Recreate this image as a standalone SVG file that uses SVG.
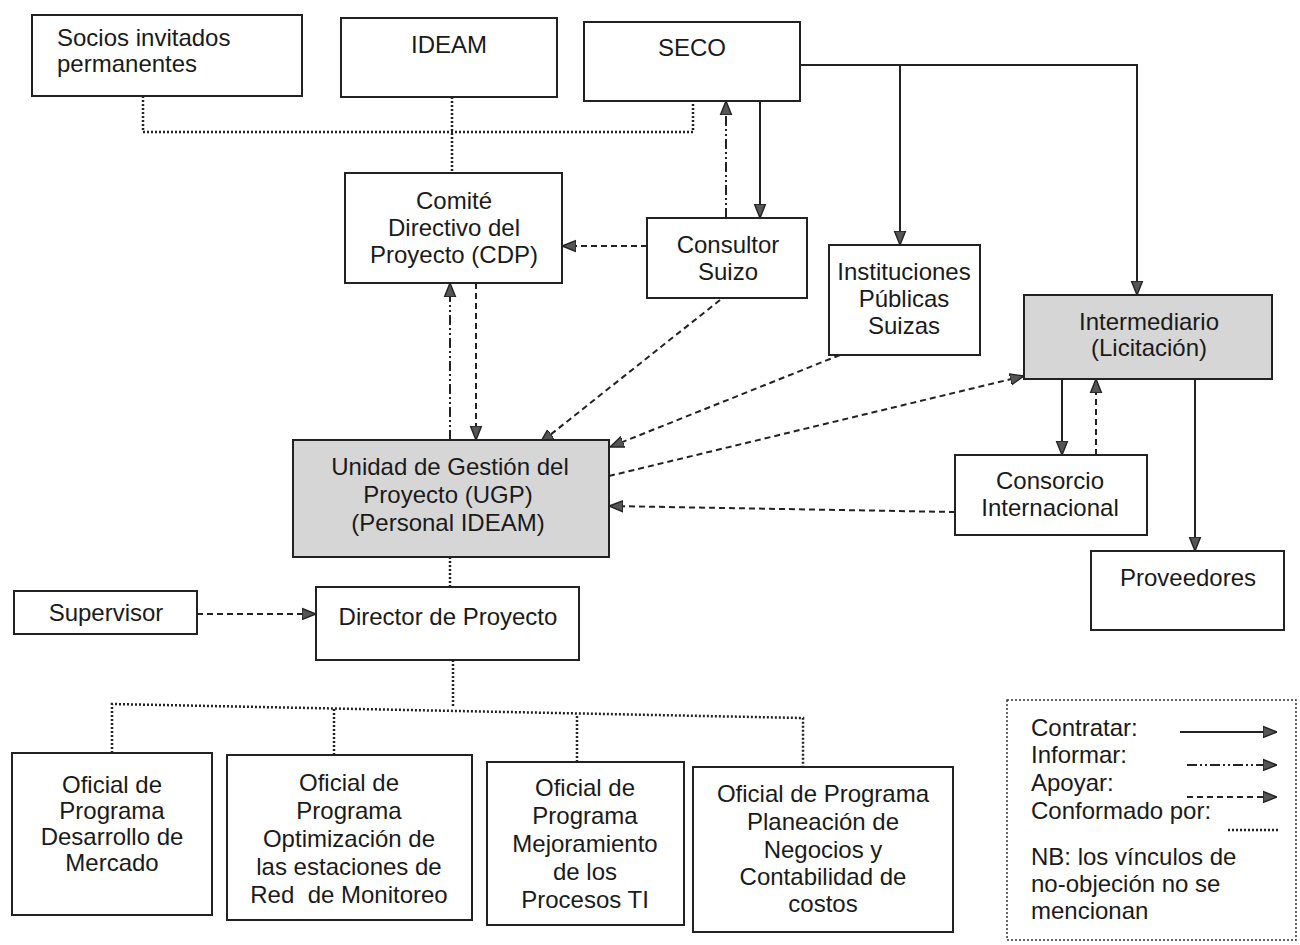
<svg xmlns="http://www.w3.org/2000/svg" width="1300" height="945" viewBox="0 0 1300 945">
<style>
.box{fill:#fff;stroke:#222;stroke-width:2}
.gray{fill:#d6d6d6;stroke:#222;stroke-width:2}
text{font-family:"Liberation Sans",Arial,sans-serif;font-size:24px;fill:#1a1a1a}
.c{text-anchor:middle}
.solid{fill:none;stroke:#222;stroke-width:2}
.inf{fill:none;stroke:#222;stroke-width:2;stroke-dasharray:10 3 2 3 2 3}
.apo{fill:none;stroke:#222;stroke-width:2;stroke-dasharray:6 4}
.dot{fill:none;stroke:#222;stroke-width:2.5;stroke-dasharray:2 2}
</style>
<defs>
<marker id="ahL" viewBox="0 0 10 10" refX="10" refY="5" markerWidth="14" markerHeight="14" orient="auto" markerUnits="userSpaceOnUse">
<path d="M0,1 L10,5 L0,9 Z" fill="#555" stroke="#222" stroke-width="1"/>
</marker>
</defs>
<rect width="1300" height="945" fill="#fff"/>

<g id="connectors">
<path class="dot" d="M143,96 V132 H693 V101"/>
<path class="dot" d="M452,97 V173"/>
<path class="dot" d="M450,557 V587"/>
<path class="dot" d="M453,660 V706"/>
<path class="dot" d="M112,753 V704 L803,718 V767"/>
<path class="dot" d="M334,755 V709"/>
<path class="dot" d="M577,762 V714"/>
<path class="solid" d="M760,101 V218" marker-end="url(#ahL)"/>
<path class="solid" d="M800,65 H1137 V295" marker-end="url(#ahL)"/>
<path class="solid" d="M900,65 V245" marker-end="url(#ahL)"/>
<path class="solid" d="M1062,379 V455" marker-end="url(#ahL)"/>
<path class="solid" d="M1195,379 V551" marker-end="url(#ahL)"/>
<path class="inf" d="M726,218 V101" marker-end="url(#ahL)"/>
<path class="inf" d="M450,440 V283" marker-end="url(#ahL)"/>
<path class="apo" d="M647,246 H562" marker-end="url(#ahL)"/>
<path class="apo" d="M476,283 V440" marker-end="url(#ahL)"/>
<path class="apo" d="M720,300 L540,443" marker-end="url(#ahL)"/>
<path class="apo" d="M840,355 L610,447" marker-end="url(#ahL)"/>
<path class="apo" d="M609,476 L1024,376" marker-end="url(#ahL)"/>
<path class="apo" d="M955,512 L609,506" marker-end="url(#ahL)"/>
<path class="apo" d="M1096,455 V379" marker-end="url(#ahL)"/>
<path class="apo" d="M197,614 H316" marker-end="url(#ahL)"/>
</g>

<g id="socios"><rect class="box" x="32" y="15" width="270" height="81"/><text x="57" y="46">Socios invitados</text><text x="57" y="72">permanentes</text></g>
<g id="ideam"><rect class="box" x="341" y="18" width="216" height="79"/><text class="c" x="449" y="53">IDEAM</text></g>
<g id="seco"><rect class="box" x="584" y="22" width="216" height="79"/><text class="c" x="692" y="56">SECO</text></g>
<g id="cdp"><rect class="box" x="345" y="173" width="217" height="110"/><text class="c" x="454" y="209">Comité</text><text class="c" x="454" y="236">Directivo del</text><text class="c" x="454" y="263">Proyecto (CDP)</text></g>
<g id="consultor"><rect class="box" x="647" y="218" width="160" height="80"/><text class="c" x="728" y="253">Consultor</text><text class="c" x="728" y="280">Suizo</text></g>
<g id="instituciones"><rect class="box" x="829" y="245" width="151" height="110"/><text class="c" x="904" y="280">Instituciones</text><text class="c" x="904" y="307">Públicas</text><text class="c" x="904" y="334">Suizas</text></g>
<g id="intermediario"><rect class="gray" x="1024" y="295" width="248" height="84"/><text class="c" x="1149" y="330">Intermediario</text><text class="c" x="1149" y="356">(Licitación)</text></g>
<g id="ugp"><rect class="gray" x="293" y="440" width="316" height="117"/><text class="c" x="450" y="475">Unidad de Gestión del</text><text class="c" x="448" y="503">Proyecto (UGP)</text><text class="c" x="448" y="531">(Personal IDEAM)</text></g>
<g id="consorcio"><rect class="box" x="955" y="455" width="192" height="80"/><text class="c" x="1050" y="489">Consorcio</text><text class="c" x="1050" y="516">Internacional</text></g>
<g id="proveedores"><rect class="box" x="1091" y="551" width="193" height="79"/><text class="c" x="1188" y="586">Proveedores</text></g>
<g id="supervisor"><rect class="box" x="14" y="591" width="183" height="43"/><text class="c" x="106" y="621">Supervisor</text></g>
<g id="director"><rect class="box" x="316" y="587" width="263" height="73"/><text class="c" x="448" y="625">Director de Proyecto</text></g>
<g id="oficial1"><rect class="box" x="12" y="753" width="200" height="162"/><text class="c" x="112" y="793">Oficial de</text><text class="c" x="112" y="819">Programa</text><text class="c" x="112" y="845">Desarrollo de</text><text class="c" x="112" y="871">Mercado</text></g>
<g id="oficial2"><rect class="box" x="227" y="755" width="245" height="165"/><text class="c" x="349" y="791">Oficial de</text><text class="c" x="349" y="819">Programa</text><text class="c" x="349" y="847">Optimización de</text><text class="c" x="349" y="875">las estaciones de</text><text class="c" x="349" y="903" style="white-space:pre">Red  de Monitoreo</text></g>
<g id="oficial3"><rect class="box" x="487" y="762" width="197" height="163"/><text class="c" x="585" y="796">Oficial de</text><text class="c" x="585" y="824">Programa</text><text class="c" x="585" y="852">Mejoramiento</text><text class="c" x="585" y="880">de los</text><text class="c" x="585" y="908">Procesos TI</text></g>
<g id="oficial4"><rect class="box" x="693" y="767" width="260" height="165"/><text class="c" x="823" y="802">Oficial de Programa</text><text class="c" x="823" y="830">Planeación de</text><text class="c" x="823" y="858">Negocios y</text><text class="c" x="823" y="885">Contabilidad de</text><text class="c" x="823" y="912">costos</text></g>

<g id="legend">
<rect x="1007" y="700" width="289" height="240" fill="#fff" stroke="#333" stroke-width="1.5" stroke-dasharray="2 2"/>
<text x="1031" y="736">Contratar:</text>
<text x="1031" y="763">Informar:</text>
<text x="1031" y="791">Apoyar:</text>
<text x="1031" y="819">Conformado por:</text>
<text x="1031" y="865">NB: los vínculos de</text>
<text x="1031" y="892">no-objeción no se</text>
<text x="1031" y="919">mencionan</text>
<path class="solid" d="M1180,732 H1277" marker-end="url(#ahL)"/>
<path class="inf" d="M1187,765 H1277" marker-end="url(#ahL)"/>
<path class="apo" d="M1187,797 H1277" marker-end="url(#ahL)"/>
<path class="dot" d="M1228,830 H1278"/>
</g>
</svg>
